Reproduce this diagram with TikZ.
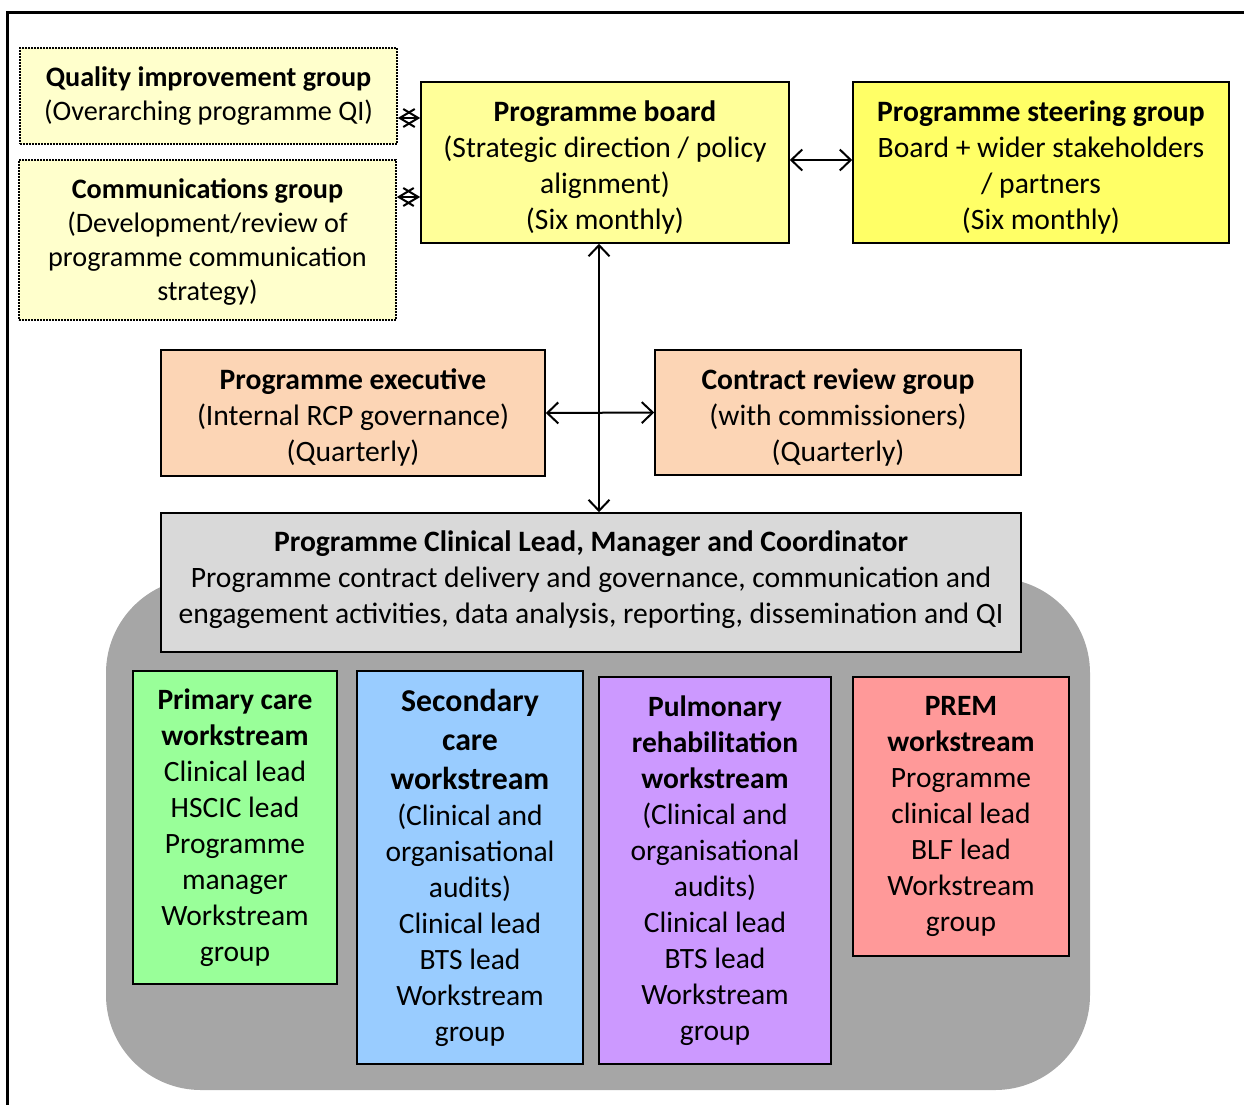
\documentclass[tikz,border=0pt]{standalone}
\usepackage{fontspec}
\setmainfont{Carlito}
\usetikzlibrary{arrows.meta}
\definecolor{qiyellow}{HTML}{FFFFCC}
\definecolor{boardyellow}{HTML}{FFFF99}
\definecolor{steeryellow}{HTML}{FFFF66}
\definecolor{peach}{HTML}{FCD5B5}
\definecolor{lgray}{HTML}{D9D9D9}
\definecolor{dgray}{HTML}{A6A6A6}
\definecolor{pgreen}{HTML}{99FF99}
\definecolor{pblue}{HTML}{99CCFF}
\definecolor{ppurple}{HTML}{CC99FF}
\definecolor{pred}{HTML}{FF9999}
\tikzset{
  box/.style={draw, line width=1.6pt, align=center, inner sep=0pt,
    font=\fontsize{29.6}{36}\selectfont},
  dotbox/.style={box, line width=1.6pt, dash pattern=on 1.6pt off 1.4pt,
    font=\fontsize{28.2}{34.3}\selectfont},
  wsbox/.style={box, font=\fontsize{29.5}{36}\selectfont},
  txt/.style={align=center, inner sep=0pt, font=\fontsize{29.6}{36}\selectfont},
  dottxt/.style={txt, font=\fontsize{28.2}{34.3}\selectfont},
  conn/.style={line width=2pt, {Straight Barb[length=11pt,width=21pt,line width=2pt]}-{Straight Barb[length=11pt,width=21pt,line width=2pt]}},
  shortconn/.style={line width=2pt, {Straight Barb[length=15pt,width=18pt,line width=2pt]}-{Straight Barb[length=15pt,width=18pt,line width=2pt]}},
}
\newcommand{\sechead}[1]{{\fontsize{31.8}{39}\selectfont\bfseries #1}}
\begin{document}
\begin{tikzpicture}[x=1pt,y=-1pt]
\useasboundingbox (0,0) rectangle (1244,1104);
\draw[line width=3pt] (7,1110) -- (7,12) -- (1250,12);
% grey background
\fill[dgray, rounded corners=95pt] (106,578) rectangle (1090,1090);
% top boxes
\node[dotbox, fill=qiyellow, minimum width=377pt, minimum height=96pt] (qi) at (208.5,96)
  {\textbf{Quality improvement group}\\(Overarching programme QI)};
\node[dotbox, fill=qiyellow, minimum width=377pt, minimum height=160pt] (comm) at (207.5,240) {};
\node[dottxt] (commtxt) at ([yshift=-2pt]comm.center)
  {\textbf{Communications group}\\(Development/review of\\programme communication\\strategy)};
\node[box, fill=boardyellow, minimum width=368pt, minimum height=161pt] (board) at (605,162.5) {};
\node[txt] (boardtxt) at ([yshift=-4.5pt]board.center)
  {\textbf{Programme board}\\(Strategic direction / policy\\alignment)\\(Six monthly)};
\node[box, fill=steeryellow, minimum width=376pt, minimum height=161pt] (steer) at (1041,162.5) {};
\node[txt] (steertxt) at ([yshift=-4.5pt]steer.center)
  {\textbf{Programme steering group}\\Board + wider stakeholders\\/ partners\\(Six monthly)};
\node[box, fill=peach, minimum width=384pt, minimum height=126pt] (exec) at (353,413) {};
\node[txt] (exectxt) at ([yshift=-4pt]exec.center)
  {\textbf{Programme executive}\\(Internal RCP governance)\\(Quarterly)};
\node[box, fill=peach, minimum width=366pt, minimum height=125pt] (contract) at (838,412.5) {};
\node[txt] (contracttxt) at ([yshift=-5pt]contract.center)
  {\textbf{Contract review group}\\(with commissioners)\\(Quarterly)};
\node[box, fill=lgray, minimum width=860pt, minimum height=139pt] (clin) at (591,582.5) {};
\node[txt] (clintxt) at ([yshift=3pt]clin.center)
  {\textbf{Programme Clinical Lead, Manager and Coordinator}\\Programme contract delivery and governance, communication and\\engagement activities, data analysis, reporting, dissemination and QI};
% workstreams
\node[wsbox, fill=pgreen, minimum width=204pt, minimum height=313pt] (prim) at (235,827.5)
  {\textbf{Primary care}\\\textbf{workstream}\\Clinical lead\\HSCIC lead\\Programme\\manager\\Workstream\\group};
\node[wsbox, fill=pblue, minimum width=226pt, minimum height=393pt] (sec) at (470,867.5)
  {\sechead{Secondary}\\[3pt]\sechead{care}\\[3pt]\sechead{workstream}\\(Clinical and\\organisational\\audits)\\Clinical lead\\BTS lead\\Workstream\\group};
\node[wsbox, fill=ppurple, minimum width=232pt, minimum height=387pt] (pulm) at (715,870.5)
  {\textbf{Pulmonary}\\\textbf{rehabilitation}\\\textbf{workstream}\\(Clinical and\\organisational\\audits)\\Clinical lead\\BTS lead\\Workstream\\group};
\node[wsbox, fill=pred, minimum width=216pt, minimum height=279pt] (prem) at (961,816.5)
  {\textbf{PREM}\\\textbf{workstream}\\Programme\\clinical lead\\BLF lead\\Workstream\\group};
% connectors
\coordinate (vx) at (599,0);
\coordinate (qiy) at (0,118);
\coordinate (cmy) at (0,197);
\draw[shortconn] (qi.east |- qiy) -- (board.west |- qiy);
\draw[shortconn] (comm.east |- cmy) -- (board.west |- cmy);
\draw[conn] (board.east |- 0,160) -- (steer.west |- 0,160);
\draw[conn] (board.south -| vx) -- (clin.north -| vx);
\draw[conn] (exec.east) -- (contract.west);
\end{tikzpicture}
\end{document}
